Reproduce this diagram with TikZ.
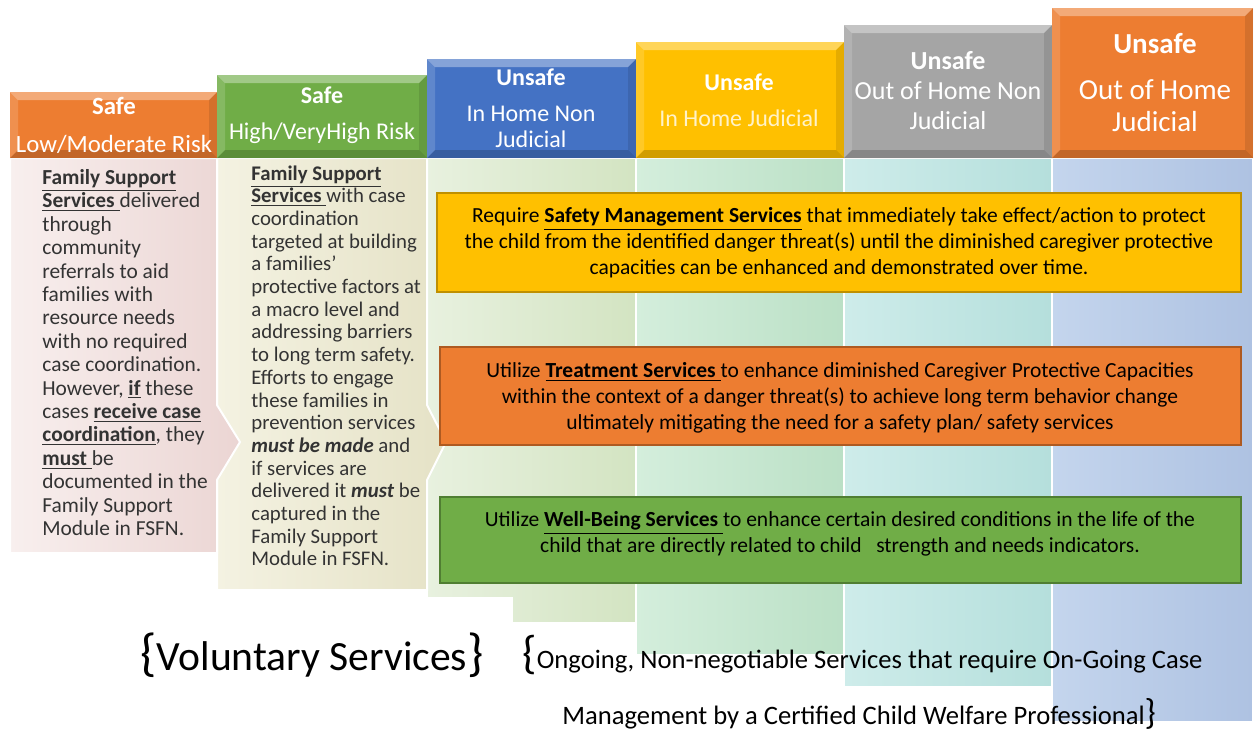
\documentclass[tikz,border=0pt]{standalone}
\usepackage{fontspec}
\setmainfont{Carlito}
\usepackage{tikz}
\usepackage{xcolor}

\definecolor{hOrange}{HTML}{ED7D31}
\definecolor{hGreen}{HTML}{70AD47}
\definecolor{hBlue}{HTML}{4472C4}
\definecolor{hGold}{HTML}{FFC000}
\definecolor{hGray}{HTML}{A5A5A5}
\definecolor{hCream}{HTML}{FFF2C8}
\definecolor{goldLine}{HTML}{BF9000}
\definecolor{orangeLine}{HTML}{AE5A21}
\definecolor{greenLine}{HTML}{507E32}
\definecolor{colText}{HTML}{333333}
\definecolor{pinkL}{HTML}{F8EFEE}
\definecolor{pinkR}{HTML}{EBD5D3}
\definecolor{beigeL}{HTML}{F4F2E2}
\definecolor{beigeR}{HTML}{E5E2C6}
\definecolor{greenL}{HTML}{E8F1DF}
\definecolor{greenR}{HTML}{D3E4C2}
\definecolor{mintL}{HTML}{D4EEDC}
\definecolor{mintR}{HTML}{BBE0C6}
\definecolor{cyanL}{HTML}{CEECEA}
\definecolor{cyanR}{HTML}{B5DFDC}
\definecolor{blueL}{HTML}{C4D5ED}
\definecolor{blueR}{HTML}{AEC2E2}

\newcommand{\ulbf}[1]{\underline{\textbf{#1}}}

\begin{document}
\begin{tikzpicture}[x=0.5pt,y=-0.5pt,
    colshape/.style={draw=white, line width=1pt},
    hdtext/.style={text=white, align=center, inner sep=0pt},
    coltext/.style={text=colText, align=left, anchor=north west, inner sep=0pt},
    boxtext/.style={align=center, inner sep=0pt, font=\fontsize{10.75}{13}\selectfont}]
        \useasboundingbox (0,0) rectangle (1254,730);
        % step columns, right to left
        \shadedraw[colshape, left color=blueL, right color=blueR] (1052,158) rectangle (1253,722);
        \shadedraw[colshape, left color=cyanL, right color=cyanR] (844,158) rectangle (1052,687);
        \shadedraw[colshape, left color=mintL, right color=mintR] (636,158) rectangle (844,655);
        \shadedraw[colshape, left color=greenL, right color=greenR] (427,158) -- (636,158) -- (636,623) -- (512,623) -- (512,598) -- (427,598) -- cycle;
        \shadedraw[colshape, left color=beigeL, right color=beigeR] (217,158) -- (427,158) -- (427,405) -- (446,442) -- (427,480) -- (427,590) -- (217,590) -- cycle;
        \shadedraw[colshape, left color=pinkL, right color=pinkR] (10,158) -- (217,158) -- (217,405) -- (240,442) -- (217,480) -- (217,553) -- (10,553) -- cycle;
        % headers with bevel
        \foreach \xa/\ya/\xb/\hc in {10/92/217/hOrange, 217/75/427/hGreen, 427/59/636/hBlue, 636/42/844/hGold, 844/25/1052/hGray, 1052/8/1253/hOrange}{
          \fill[\hc] (\xa,\ya) rectangle (\xb,158);
          \fill[white, opacity=0.35] (\xa,\ya) -- (\xb,\ya) -- (\xb-8,\ya+8) -- (\xa+8,\ya+8) -- cycle;
          \fill[white, opacity=0.15] (\xa,\ya) -- (\xa+8,\ya+8) -- (\xa+8,150) -- (\xa,158) -- cycle;
          \fill[black, opacity=0.10] (\xb,\ya) -- (\xb-8,\ya+8) -- (\xb-8,150) -- (\xb,158) -- cycle;
          \fill[black, opacity=0.18] (\xa,158) -- (\xa+8,150) -- (\xb-8,150) -- (\xb,158) -- cycle;
        }
        \node[hdtext, font=\fontsize{12.4}{19}\selectfont] (hsafelow) at (114,125) {\textbf{Safe}\\Low/Moderate Risk};
        \node[hdtext, font=\fontsize{12}{18}\selectfont] (hsafehigh) at (322,115) {\textbf{Safe}\\High/VeryHigh Risk};
        \node[hdtext, font=\fontsize{12}{13}\selectfont] (hinhomenj) at (531,108) {\textbf{Unsafe}\\[5pt]In Home Non\\Judicial};
        \node[hdtext, font=\fontsize{12}{18}\selectfont] (hinhomej) at (739,100) {\textbf{Unsafe}\\\textcolor{hCream}{In Home Judicial}};
        \node[hdtext, font=\fontsize{13}{15}\selectfont] (houthomenj) at (948,91) {\textbf{Unsafe}\\Out of Home Non\\Judicial};
        \node[hdtext, font=\fontsize{14.5}{16}\selectfont] (houthomej) at (1155,83) {\textbf{Unsafe}\\[7pt]Out of Home\\Judicial};
        % voluntary column texts
        \node[coltext, font=\fontsize{10.7}{11.7}\selectfont] (txtlow) at (42,169) {%
          \ulbf{Family Support}\\
          \ulbf{Services }delivered\\
          through\\
          community\\
          referrals to aid\\
          families with\\
          resource needs\\
          with no required\\
          case coordination.\\
          However, \ulbf{if} these\\
          cases \ulbf{receive case}\\
          \ulbf{coordination}, they\\
          \ulbf{must }be\\
          documented in the\\
          Family Support\\
          Module in FSFN.};
        \node[coltext, font=\fontsize{10.4}{11.35}\selectfont] (txthigh) at (251,165) {%
          \ulbf{Family Support}\\
          \ulbf{Services }with case\\
          coordination\\
          targeted at building\\
          a families’\\
          protective factors at\\
          a macro level and\\
          addressing barriers\\
          to long term safety.\\
          Efforts to engage\\
          these families in\\
          prevention services\\
          \textbf{\textit{must be made}} and\\
          if services are\\
          delivered it \textbf{\textit{must}} be\\
          captured in the\\
          Family Support\\
          Module in FSFN.};
        % service boxes
        \draw[line width=1pt, fill=hGold, draw=goldLine] (437,193) rectangle (1241,292);
        \draw[line width=1pt, fill=hOrange, draw=orangeLine] (440,347) rectangle (1241,445);
        \draw[line width=1pt, fill=hGreen, draw=greenLine] (440,497) rectangle (1241,583);
        \node[boxtext] (safety) at (839,243) {Require \ulbf{Safety Management Services} that immediately take effect/action to protect\\
          the child from the identified danger threat(s) until the diminished caregiver protective\\
          capacities can be enhanced and demonstrated over time.};
        \node[boxtext] (treatment) at (840,398) {Utilize \ulbf{Treatment Services }to enhance diminished Caregiver Protective Capacities\\
          within the context of a danger threat(s) to achieve long term behavior change\\
          ultimately mitigating the need for a safety plan/ safety services};
        \node[boxtext] (wellbeing) at (840,534) {Utilize \ulbf{Well-Being Services }to enhance certain desired conditions in the life of the\\
          child that are directly related to child\ \ \ strength and needs indicators.};
        % bottom captions
        \node[inner sep=0pt, font=\fontsize{20.8}{24}\selectfont] (voluntary) at (312,655) {{\fontsize{26}{26}\selectfont\{}Voluntary Services{\fontsize{26}{26}\selectfont\}}};
        \node[inner sep=0pt, anchor=base west] (ongoing) at (522,668) {{\fontsize{23}{24}\selectfont\{}\fontsize{13.3}{15}\selectfont Ongoing, Non-negotiable Services that require On-Going Case};
        \node[inner sep=0pt, anchor=base west] (mgmt) at (562,724) {\fontsize{13.3}{15}\selectfont Management by a Certified Child Welfare Professional{\fontsize{18}{18}\selectfont\}}};
\end{tikzpicture}
\end{document}
